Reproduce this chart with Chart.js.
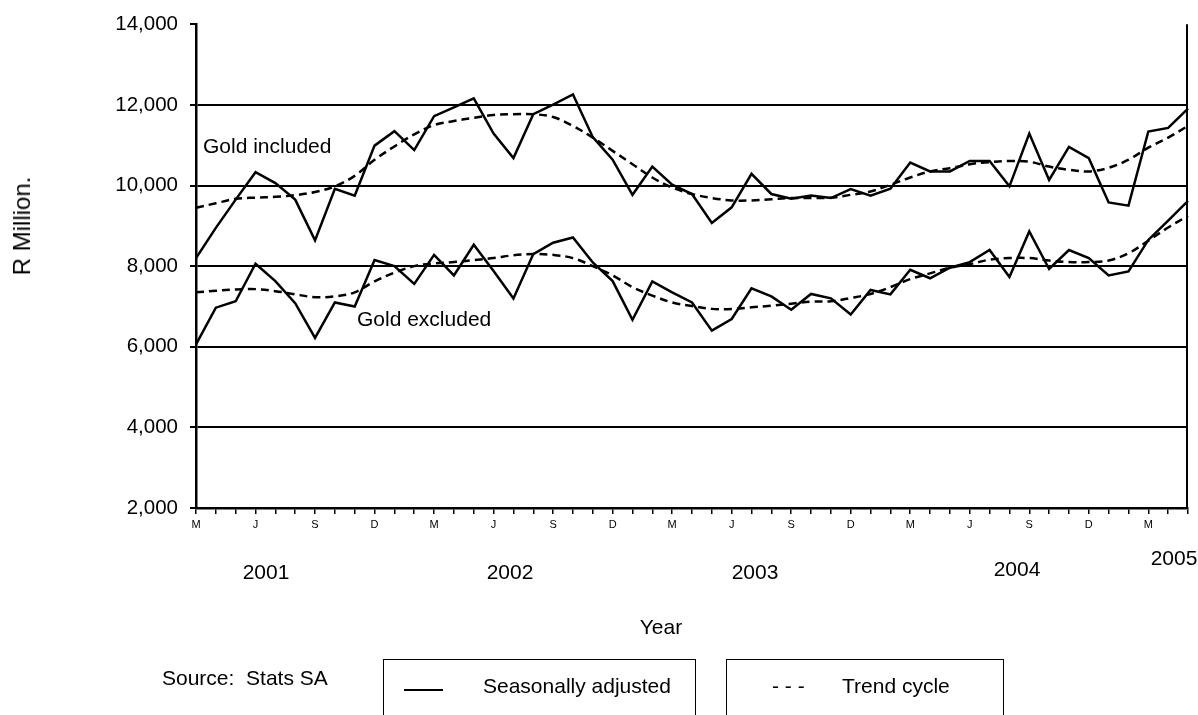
<!DOCTYPE html>
<html>
<head>
<meta charset="utf-8">
<script src="https://cdn.jsdelivr.net/npm/chart.js@4/dist/chart.umd.min.js"></script>
<style>
  html, body { margin:0; padding:0; background:#fff; }
  body { width:1198px; height:715px; position:relative; overflow:hidden;
         font-family:"Liberation Sans", Arial, sans-serif; color:#000; }
  #c { position:absolute; left:0; top:0; }
  .t { position:absolute; white-space:nowrap; font-size:21px; line-height:1; }
  .cx { transform:translate(-50%,-50%); }
  .cy { transform:translateY(-50%); }
  .box { position:absolute; border:1.5px solid #000; background:#fff; }
</style>
</head>
<body>
<canvas id="c" width="1198" height="715"></canvas>

<div class="t cx" style="left:22px; top:226px; font-size:24px; transform:translate(-50%,-50%) rotate(-90deg);">R Million.</div>

<div class="t cy" style="left:203px; top:145px;">Gold included</div>
<div class="t cy" style="left:357px; top:318px;">Gold excluded</div>

<div id="years"></div>

<div class="t cx" style="left:661px; top:626px;">Year</div>
<div class="t cy" style="left:162px; top:677px;">Source:&nbsp; Stats SA</div>

<div class="box" style="left:383px; top:659px; width:311px; height:80px;"></div>
<div style="position:absolute; left:404px; top:689px; width:39px; height:0; border-top:2px solid #000;"></div>
<div class="t cy" style="left:483px; top:685px;">Seasonally adjusted</div>

<div class="box" style="left:726px; top:659px; width:276px; height:80px;"></div>
<div class="t cy" style="left:772px; top:685px;">- - -</div>
<div class="t cy" style="left:842px; top:685px;">Trend cycle</div>

<script>
// ---- data (monthly, March 2001 to May 2005) ----
const xTickLabels = [
  'M','','','J','','','S','','','D','','',
  'M','','','J','','','S','','','D','','',
  'M','','','J','','','S','','','D','','',
  'M','','','J','','','S','','','D','','',
  'M','',''
];
const goldIncludedSA = [8200, 8950, 9650, 10330, 10060, 9650, 8640, 9920, 9750, 10990,
  11350, 10880, 11720, 11940, 12160, 11290, 10680, 11770, 12010, 12260,
  11200, 10640, 9770, 10470, 10020, 9790, 9070, 9460, 10290, 9790,
  9670, 9750, 9690, 9910, 9750, 9920, 10570, 10350, 10350, 10610,
  10610, 9980, 11290, 10140, 10960, 10680, 9580, 9500, 11340, 11430, 11910];
const goldIncludedTrend = [9450, 9560, 9670, 9700, 9720, 9760, 9840, 9980, 10240, 10640,
  10970, 11270, 11500, 11600, 11680, 11750, 11770, 11770, 11700, 11480,
  11190, 10860, 10530, 10200, 9950, 9790, 9690, 9630, 9630, 9660,
  9690, 9690, 9700, 9770, 9850, 10020, 10200, 10350, 10430, 10530,
  10580, 10610, 10590, 10470, 10390, 10350, 10440, 10640, 10940, 11190, 11480];
const goldExcludedSA = [6060, 6970, 7130, 8060, 7630, 7080, 6220, 7100, 7000, 8150,
  8000, 7560, 8280, 7770, 8530, 7880, 7200, 8300, 8580, 8710,
  8090, 7630, 6670, 7620, 7350, 7100, 6400, 6690, 7450, 7250,
  6920, 7310, 7200, 6800, 7410, 7300, 7910, 7700, 7960, 8100,
  8400, 7730, 8860, 7930, 8400, 8200, 7770, 7870, 8650, 9130, 9620];
const goldExcludedTrend = [7350, 7390, 7420, 7430, 7380, 7300, 7230, 7250, 7350, 7620,
  7840, 8000, 8070, 8100, 8150, 8200, 8270, 8300, 8280, 8200,
  8000, 7770, 7480, 7270, 7100, 7010, 6940, 6940, 6980, 7020,
  7070, 7120, 7130, 7210, 7310, 7480, 7680, 7820, 7960, 8050,
  8160, 8200, 8200, 8140, 8100, 8100, 8140, 8320, 8630, 8960, 9250];
const yearLabels = ['2001', '2002', '2003', '2004', '2005'];
const yTicks = [2000, 4000, 6000, 8000, 10000, 12000, 14000];

// ---- layout of year captions (pixel positions) ----
const yearPos = [[266, 571], [510, 571], [755, 571], [1017, 568], [1174, 557]];
const yc = document.getElementById('years');
yearLabels.forEach((y, i) => {
  const d = document.createElement('div');
  d.className = 't cx';
  d.style.left = yearPos[i][0] + 'px';
  d.style.top = yearPos[i][1] + 'px';
  d.textContent = y;
  yc.appendChild(d);
});

const rightBorder = {
  id: 'rightBorder',
  afterDatasetsDraw(chart) {
    const a = chart.chartArea, ctx = chart.ctx;
    ctx.save();
    ctx.strokeStyle = '#000';
    ctx.lineWidth = 2;
    ctx.beginPath();
    ctx.moveTo(a.right - 1, a.top);
    ctx.lineTo(a.right - 1, a.bottom);
    ctx.stroke();
    ctx.restore();
  }
};

const solid = { borderColor:'#000', borderWidth:2.5, pointRadius:0, tension:0, fill:false };
const dashed = { borderColor:'#000', borderWidth:2.5, pointRadius:0, tension:0.35, fill:false,
                 borderDash:[8,5], borderCapStyle:'butt' };

new Chart(document.getElementById('c'), {
  type: 'line',
  data: {
    labels: xTickLabels,
    datasets: [
      Object.assign({ label:'Gold included - Seasonally adjusted', data: goldIncludedSA }, solid),
      Object.assign({ label:'Gold included - Trend cycle', data: goldIncludedTrend }, dashed),
      Object.assign({ label:'Gold excluded - Seasonally adjusted', data: goldExcludedSA }, solid),
      Object.assign({ label:'Gold excluded - Trend cycle', data: goldExcludedTrend }, dashed)
    ]
  },
  options: {
    responsive: false,
    animation: false,
    devicePixelRatio: 1,
    layout: { padding: { left: 0, right: 10, top: 23, bottom: 0 } },
    plugins: { legend: { display:false }, tooltip: { enabled:false } },
    scales: {
      x: {
        type: 'category',
        offset: false,
        afterFit(s) { s.height = 715 - 508; },
        border: { display:true, color:'#000', width:2.5 },
        grid: { display:true, drawOnChartArea:false, drawTicks:true, tickLength:6,
                color:'#000', lineWidth:1.5 },
        ticks: { autoSkip:false, maxRotation:0, minRotation:0, padding:4, color:'#000',
                 font: { family:'"Liberation Sans", Arial, sans-serif', size:11 } }
      },
      y: {
        min: 2000, max: 14000,
        afterFit(s) { s.width = 196; },
        afterBuildTicks(s) { s.ticks = yTicks.map(v => ({ value: v })); },
        border: { display:true, color:'#000', width:2.5 },
        grid: { display:true, drawTicks:true, tickLength:6, lineWidth:2,
                color: ctx => (ctx.tick && ctx.tick.value === 14000) ? 'rgba(0,0,0,0)' : '#000',
                tickColor:'#000' },
        ticks: { padding:12, color:'#000',
                 font: { family:'"Liberation Sans", Arial, sans-serif', size:20.5 },
                 callback: v => v.toLocaleString('en-US') }
      }
    }
  },
  plugins: [rightBorder]
});
</script>
</body>
</html>
